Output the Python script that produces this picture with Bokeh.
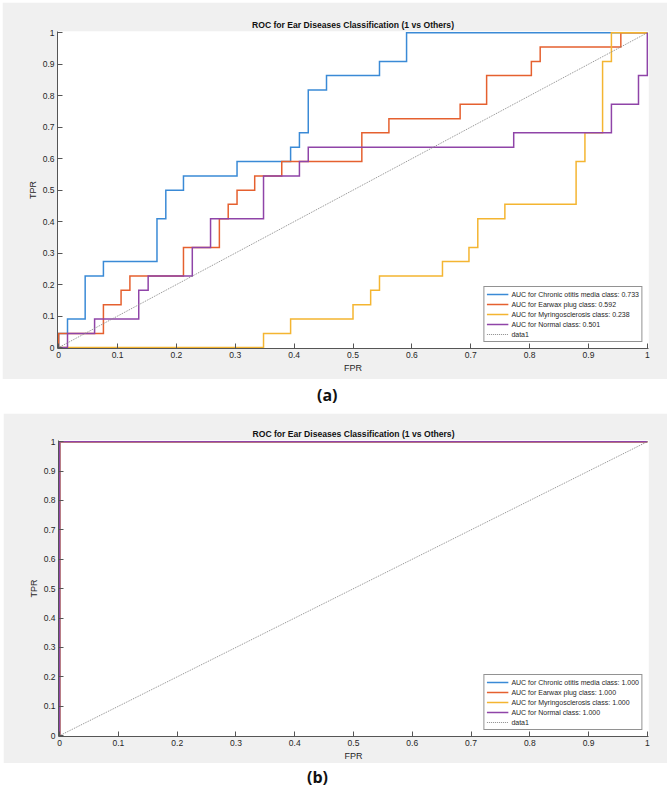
from bokeh.plotting import figure
from bokeh.models import Range1d, FixedTicker, Legend, LegendItem, Div
from bokeh.layouts import column
from bokeh.embed import file_html
from bokeh.resources import INLINE

# ---------------- data ----------------
TITLE = "ROC for Ear Diseases Classification (1 vs Others)"
X_LABEL = "FPR"
Y_LABEL = "TPR"
TICKS = [0, 0.1, 0.2, 0.3, 0.4, 0.5, 0.6, 0.7, 0.8, 0.9, 1]
TICK_LABELS = ["0", "0.1", "0.2", "0.3", "0.4", "0.5", "0.6", "0.7", "0.8", "0.9", "1"]

CLASSES = ["Chronic otitis media", "Earwax plug", "Myringosclerosis", "Normal"]
COLORS = ["#3a8ad6", "#e5602f", "#f4b531", "#8f44a8"]

# Panel (a): FPR at which TPR steps up, and the new TPR value
A_COM_FPR = [0, 0.015, 0.045, 0.076, 0.167, 0.182, 0.212, 0.303, 0.394, 0.409, 0.424, 0.455, 0.545, 0.591]
A_COM_TPR = [0.045, 0.091, 0.227, 0.273, 0.409, 0.5, 0.545, 0.591, 0.636, 0.682, 0.818, 0.864, 0.909, 1.0]

A_EAR_FPR = [0, 0.076, 0.106, 0.121, 0.212, 0.273, 0.288, 0.303, 0.333, 0.379, 0.515, 0.561, 0.682, 0.727, 0.803, 0.818, 0.955]
A_EAR_TPR = [0.045, 0.136, 0.182, 0.227, 0.318, 0.409, 0.455, 0.5, 0.545, 0.591, 0.682, 0.727, 0.773, 0.864, 0.909, 0.955, 1.0]

A_MYR_FPR = [0.348, 0.394, 0.5, 0.53, 0.545, 0.652, 0.697, 0.712, 0.758, 0.879, 0.894, 0.924, 0.939]
A_MYR_TPR = [0.045, 0.091, 0.136, 0.182, 0.227, 0.273, 0.318, 0.409, 0.455, 0.591, 0.682, 0.909, 1.0]

A_NOR_FPR = [0.015, 0.061, 0.136, 0.152, 0.227, 0.258, 0.348, 0.409, 0.424, 0.773, 0.939, 0.985, 1.0]
A_NOR_TPR = [0.045, 0.091, 0.182, 0.227, 0.318, 0.409, 0.545, 0.591, 0.636, 0.682, 0.773, 0.864, 1.0]

A_AUC = [0.733, 0.592, 0.238, 0.501]

# Panel (b): perfect classification for every class
B_COM_FPR, B_COM_TPR = [0], [1.0]
B_EAR_FPR, B_EAR_TPR = [0], [1.0]
B_MYR_FPR, B_MYR_TPR = [0], [1.0]
B_NOR_FPR, B_NOR_TPR = [0], [1.0]
B_AUC = [1.000, 1.000, 1.000, 1.000]

DIAG_X = [0, 1]
DIAG_Y = [0, 1]

# ---------------- styling ----------------
FONT = "'Liberation Sans', Arial, sans-serif"
TEXT_COLOR = "#262626"
AXIS_COLOR = "#555555"
BG = "#f0f0f0"


def staircase(fpr, tpr):
    xs, ys, prev = [0.0], [0.0], 0.0
    for x, y in zip(fpr, tpr):
        xs += [x, x]
        ys += [prev, y]
        prev = y
    xs.append(1.0)
    ys.append(prev)
    return xs, ys


def make_panel(curves, aucs, width, height, b_top, b_bottom, b_left, b_right, margin):
    p = figure(width=width, height=height, output_backend="svg", toolbar_location=None,
               x_range=Range1d(-0.002, 1.002), y_range=Range1d(-0.003, 1.004),
               min_border_left=b_left, min_border_right=b_right,
               min_border_top=b_top, min_border_bottom=b_bottom, margin=margin)
    p.border_fill_color = BG
    p.background_fill_color = "white"
    p.outline_line_color = None
    p.grid.visible = False

    p.title.text = TITLE
    p.title.align = "center"
    p.title.text_font = FONT
    p.title.text_font_size = "8.6px"
    p.title.text_font_style = "bold"
    p.title.text_color = "#111111"
    p.title.standoff = 3

    for ax in (p.xaxis[0], p.yaxis[0]):
        ax.ticker = FixedTicker(ticks=TICKS)
        ax.major_label_overrides = dict(zip(TICKS, TICK_LABELS))
        ax.minor_tick_line_color = None
        ax.major_tick_in = 5
        ax.major_tick_out = 0
        ax.axis_line_color = AXIS_COLOR
        ax.major_tick_line_color = AXIS_COLOR
        ax.major_label_text_font = FONT
        ax.major_label_text_font_size = "8.5px"
        ax.major_label_text_color = TEXT_COLOR
        ax.major_label_standoff = 3
        ax.axis_label_text_font = FONT
        ax.axis_label_text_font_size = "9px"
        ax.axis_label_text_font_style = "normal"
        ax.axis_label_text_color = TEXT_COLOR
        ax.axis_label_standoff = 2
    p.xaxis.axis_label = X_LABEL
    p.yaxis.axis_label = Y_LABEL

    items = []
    for (fpr, tpr), color, name, auc in zip(curves, COLORS, CLASSES, aucs):
        xs, ys = staircase(fpr, tpr)
        r = p.line(xs, ys, line_color=color, line_width=1.5, line_join="miter")
        items.append(LegendItem(label=f"AUC for {name} class: {auc:.3f}", renderers=[r]))
    rd = p.line(DIAG_X, DIAG_Y, line_color="#8a8a8a", line_width=1, line_dash="1 1")
    items.append(LegendItem(label="data1", renderers=[rd]))

    legend = Legend(items=items, location="bottom_right", margin=6, padding=2,
                    spacing=0, label_height=10, glyph_height=10, glyph_width=22,
                    label_standoff=3, label_text_font=FONT, label_text_font_size="7px",
                    label_text_color=TEXT_COLOR, border_line_color="#262626",
                    border_line_width=1, background_fill_color="white",
                    background_fill_alpha=1.0)
    p.add_layout(legend)
    return p


curves_a = [(A_COM_FPR, A_COM_TPR), (A_EAR_FPR, A_EAR_TPR), (A_MYR_FPR, A_MYR_TPR), (A_NOR_FPR, A_NOR_TPR)]
curves_b = [(B_COM_FPR, B_COM_TPR), (B_EAR_FPR, B_EAR_TPR), (B_MYR_FPR, B_MYR_TPR), (B_NOR_FPR, B_NOR_TPR)]

pa = make_panel(curves_a, A_AUC, 665, 377, 29, 31, 54, 19, (2, 2, 0, 2))
pb = make_panel(curves_b, B_AUC, 664, 350, 27, 25, 55, 19, (0, 2, 0, 3))

LABEL_STYLE = "font-family:'Open Sans',sans-serif;font-weight:bold;font-size:16px;color:#111;"
div_a = Div(text=f'<div style="{LABEL_STYLE}line-height:20px;padding-top:6px;padding-left:317px;">(a)</div>',
            width=669, height=34, margin=0)
div_b = Div(text=f'<div style="{LABEL_STYLE}line-height:20px;padding-top:4px;padding-left:307px;">(b)</div>',
            width=669, height=27, margin=0)

layout = column(pa, div_a, pb, div_b, spacing=0)

open("out.html", "w").write(file_html(layout, INLINE))
